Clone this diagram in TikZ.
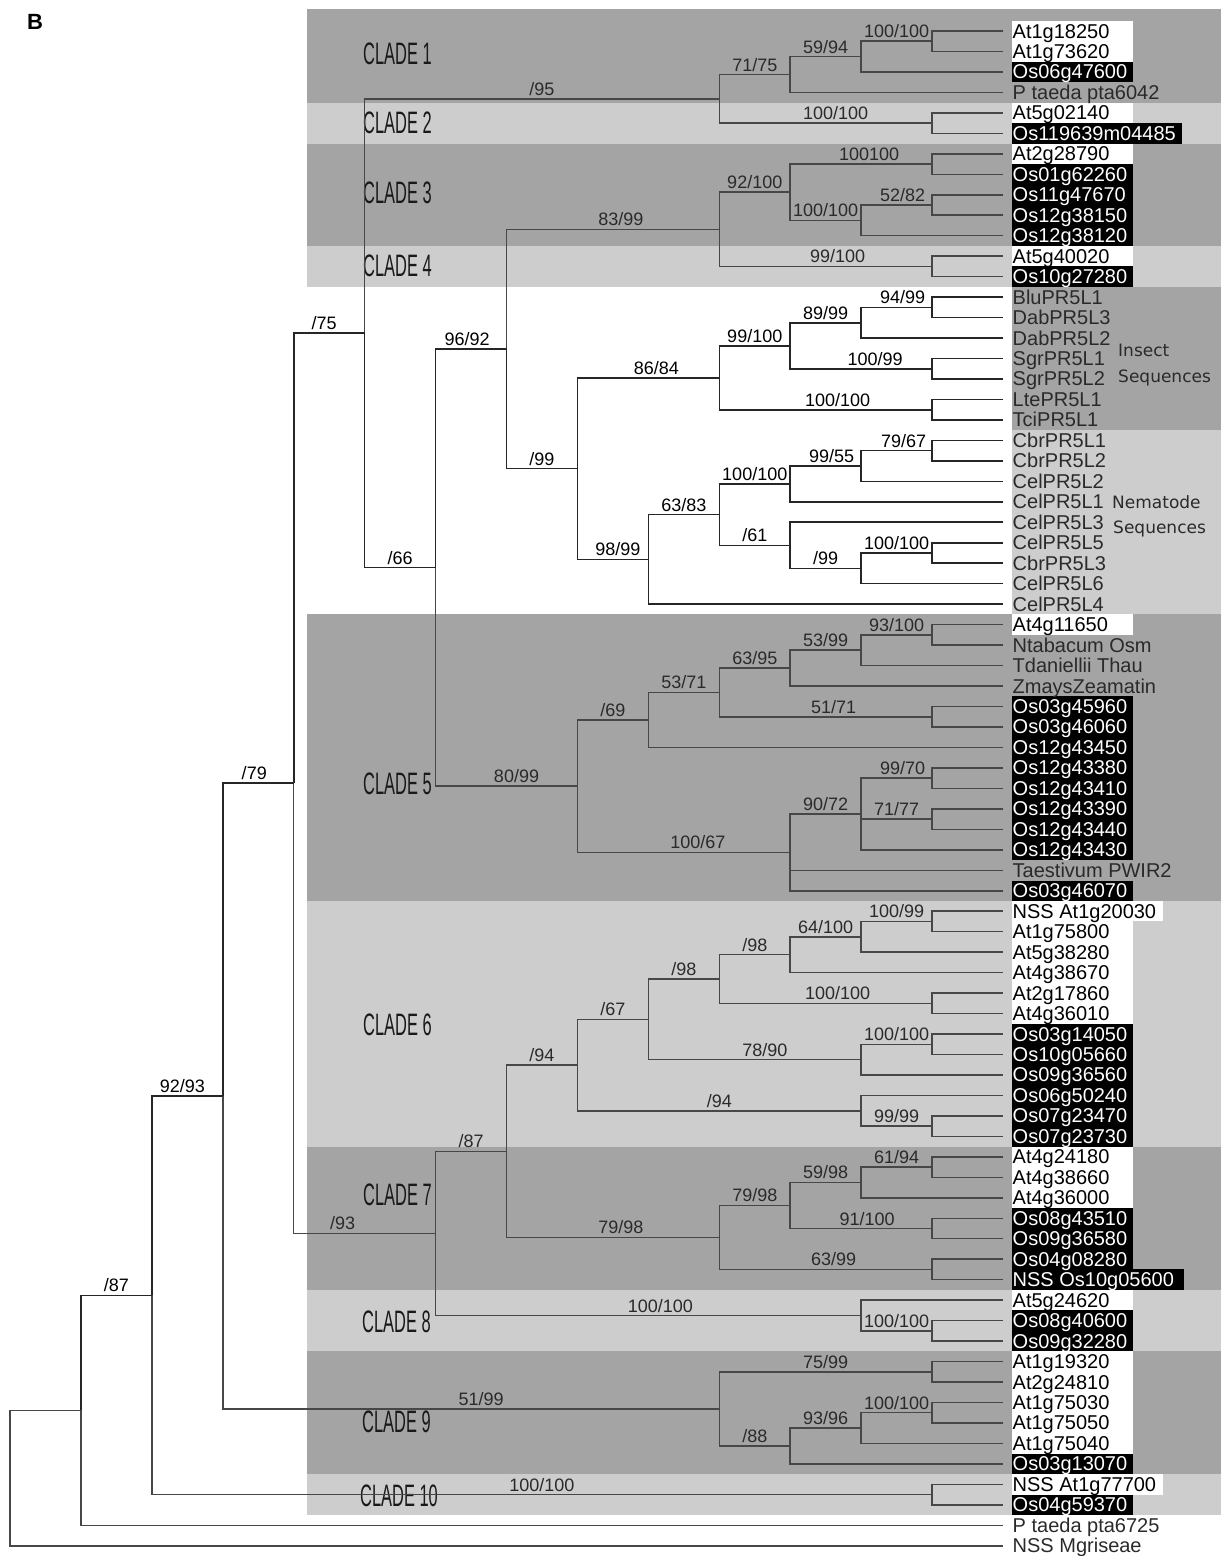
\documentclass[tikz,border=0pt]{standalone}
\usepackage{fontspec}
\setmainfont{Liberation Sans}
\newfontfamily\annfont{DejaVu Sans}
\usepackage{graphicx}
\definecolor{bandD}{HTML}{A4A4A4}
\definecolor{bandL}{HTML}{CDCDCD}
\definecolor{lineG}{HTML}{474747}
\definecolor{txtG}{HTML}{2A2A2A}
\def\leaflist{0/At1g18250/white/black/1133,1/At1g73620/white/black/1133,2/Os06g47600/black/white/1133,3/P taeda pta6042/none/txtG/1133,
4/At5g02140/white/black/1133,5/Os119639m04485/black/white/1182,
6/At2g28790/white/black/1133,7/Os01g62260/black/white/1133,8/Os11g47670/black/white/1133,9/Os12g38150/black/white/1133,10/Os12g38120/black/white/1133,
11/At5g40020/white/black/1133,12/Os10g27280/black/white/1133,
13/BluPR5L1/none/txtG/1133,14/DabPR5L3/none/txtG/1133,15/DabPR5L2/none/txtG/1133,16/SgrPR5L1/none/txtG/1133,17/SgrPR5L2/none/txtG/1133,18/LtePR5L1/none/txtG/1133,19/TciPR5L1/none/txtG/1133,
20/CbrPR5L1/none/txtG/1133,21/CbrPR5L2/none/txtG/1133,22/CelPR5L2/none/txtG/1133,23/CelPR5L1/none/txtG/1133,24/CelPR5L3/none/txtG/1133,25/CelPR5L5/none/txtG/1133,26/CbrPR5L3/none/txtG/1133,27/CelPR5L6/none/txtG/1133,28/CelPR5L4/none/txtG/1133,
29/At4g11650/white/black/1133,30/Ntabacum Osm/none/txtG/1133,31/Tdaniellii Thau/none/txtG/1133,32/ZmaysZeamatin/none/txtG/1133,
33/Os03g45960/black/white/1133,34/Os03g46060/black/white/1133,35/Os12g43450/black/white/1133,36/Os12g43380/black/white/1133,37/Os12g43410/black/white/1133,38/Os12g43390/black/white/1133,39/Os12g43440/black/white/1133,40/Os12g43430/black/white/1133,
41/Taestivum PWIR2/none/txtG/1133,42/Os03g46070/black/white/1133,
43/NSS At1g20030/white/black/1163,44/At1g75800/white/black/1133,45/At5g38280/white/black/1133,46/At4g38670/white/black/1133,47/At2g17860/white/black/1133,48/At4g36010/white/black/1133,
49/Os03g14050/black/white/1133,50/Os10g05660/black/white/1133,51/Os09g36560/black/white/1133,52/Os06g50240/black/white/1133,53/Os07g23470/black/white/1133,54/Os07g23730/black/white/1133,
55/At4g24180/white/black/1133,56/At4g38660/white/black/1133,57/At4g36000/white/black/1133,
58/Os08g43510/black/white/1133,59/Os09g36580/black/white/1133,60/Os04g08280/black/white/1133,61/NSS Os10g05600/black/white/1184,
62/At5g24620/white/black/1133,63/Os08g40600/black/white/1133,64/Os09g32280/black/white/1133,
65/At1g19320/white/black/1133,66/At2g24810/white/black/1133,67/At1g75030/white/black/1133,68/At1g75050/white/black/1133,69/At1g75040/white/black/1133,70/Os03g13070/black/white/1133,
71/NSS At1g77700/white/black/1163,72/Os04g59370/black/white/1133,
73/P taeda pta6725/none/txtG/1133,74/NSS Mgriseae/none/txtG/1133}
\begin{document}
\begin{tikzpicture}[x=1pt,y=-1pt,
  declare function={cx(\k)=10+70.93*\k; ry(\r)=31+20.47*\r;},
  br/.style={draw=lineG,line width=1.5pt},
  bk/.style={draw=black!85,line width=1.6pt},
  bl/.style={pos=0.75,anchor=base,yshift=3.5pt,inner sep=0pt,font=\fontsize{18}{18}\selectfont,text=txtG},
  bb/.style={bl,text=black},
  lf/.style={anchor=base west,inner sep=0pt,font=\fontsize{20}{20}\selectfont},
  cl/.style={anchor=west,inner sep=0pt,text=black!90,font=\fontsize{31}{31}\selectfont},
  ann/.style={anchor=base west,inner sep=0pt,text=txtG,font=\annfont\fontsize{17}{17}\selectfont}]
\useasboundingbox (0,0) rectangle (1221,1556);
% clade bands
\fill[bandD] (307,9) rectangle (1221,{ry(3.5)});
\fill[bandL] (307,{ry(3.5)}) rectangle (1221,{ry(5.5)});
\fill[bandD] (307,{ry(5.5)}) rectangle (1221,{ry(10.5)});
\fill[bandL] (307,{ry(10.5)}) rectangle (1221,{ry(12.5)});
\fill[bandD] (1011.5,{ry(12.5)}) rectangle (1221,{ry(19.5)});
\fill[bandL] (1011.5,{ry(19.5)}) rectangle (1221,{ry(28.5)});
\fill[bandD] (307,{ry(28.5)}) rectangle (1221,{ry(42.5)});
\fill[bandL] (307,{ry(42.5)}) rectangle (1221,{ry(54.5)});
\fill[bandD] (307,{ry(54.5)}) rectangle (1221,{ry(61.5)});
\fill[bandL] (307,{ry(61.5)}) rectangle (1221,{ry(64.5)});
\fill[bandD] (307,{ry(64.5)}) rectangle (1221,{ry(70.5)});
\fill[bandL] (307,{ry(70.5)}) rectangle (1221,{ry(72.5)});
% label boxes
\foreach \ii/\nm/\fc/\tc/\rr in \leaflist {
  \fill[fill=\fc] (1011.5,{ry(\ii-0.5)}) rectangle (\rr,{ry(\ii+0.5)});
}
% panel and clade labels
\node[font=\bfseries\fontsize{22}{22}\selectfont,inner sep=0pt] (panel) at (35,22) {B};
\node[cl] (cl1) at (363,54) {\scalebox{0.53}[1]{CLADE 1}};
\node[cl] (cl2) at (363,123) {\scalebox{0.53}[1]{CLADE 2}};
\node[cl] (cl3) at (363,193) {\scalebox{0.53}[1]{CLADE 3}};
\node[cl] (cl4) at (363,266) {\scalebox{0.53}[1]{CLADE 4}};
\node[cl] (cl5) at (363,784) {\scalebox{0.53}[1]{CLADE 5}};
\node[cl] (cl6) at (363,1025) {\scalebox{0.53}[1]{CLADE 6}};
\node[cl] (cl7) at (363,1195) {\scalebox{0.53}[1]{CLADE 7}};
\node[cl] (cl8) at (362,1322) {\scalebox{0.53}[1]{CLADE 8}};
\node[cl] (cl9) at (362,1422) {\scalebox{0.53}[1]{CLADE 9}};
\node[cl] (cl10) at (360,1496) {\scalebox{0.53}[1]{CLADE 10}};
\node[ann] (ins1) at (1118,356) {Insect};
\node[ann] (ins2) at (1118,382) {Sequences};
\node[ann] (nem1) at (1112,508) {Nematode};
\node[ann] (nem2) at (1113,533) {Sequences};
% tips
\foreach \ii in {0,...,74} { \coordinate (t\ii) at ({cx(14)},{ry(\ii)}); }
% internal nodes
\coordinate (a1) at ({cx(13)},{ry(0.5)});
\coordinate (a2) at ({cx(12)},{ry(1.25)});
\coordinate (a3) at ({cx(11)},{ry(2.125)});
\coordinate (c2) at ({cx(13)},{ry(4.5)});
\coordinate (c12) at ({cx(10)},{ry(3.3125)});
\coordinate (b1) at ({cx(13)},{ry(6.5)});
\coordinate (b2) at ({cx(13)},{ry(8.5)});
\coordinate (b3) at ({cx(12)},{ry(9.25)});
\coordinate (b4) at ({cx(11)},{ry(7.875)});
\coordinate (c4) at ({cx(13)},{ry(11.5)});
\coordinate (c34) at ({cx(10)},{ry(9.6875)});
\coordinate (i1) at ({cx(13)},{ry(13.5)});
\coordinate (i2) at ({cx(12)},{ry(14.25)});
\coordinate (i3) at ({cx(13)},{ry(16.5)});
\coordinate (i4) at ({cx(11)},{ry(15.375)});
\coordinate (i5) at ({cx(13)},{ry(18.5)});
\coordinate (i6) at ({cx(10)},{ry(16.9375)});
\coordinate (m1) at ({cx(13)},{ry(20.5)});
\coordinate (m2) at ({cx(12)},{ry(21.25)});
\coordinate (m3) at ({cx(11)},{ry(22.125)});
\coordinate (m4) at ({cx(13)},{ry(25.5)});
\coordinate (m5) at ({cx(12)},{ry(26.25)});
\coordinate (m6) at ({cx(11)},{ry(25.125)});
\coordinate (m7) at ({cx(10)},{ry(23.625)});
\coordinate (m8) at ({cx(9)},{ry(25.8125)});
\coordinate (im) at ({cx(8)},{ry(21.375)});
\coordinate (d96) at ({cx(7)},{ry(15.53125)});
\coordinate (f1) at ({cx(13)},{ry(29.5)});
\coordinate (f2) at ({cx(12)},{ry(30.25)});
\coordinate (f3) at ({cx(11)},{ry(31.125)});
\coordinate (f4) at ({cx(13)},{ry(33.5)});
\coordinate (f5) at ({cx(10)},{ry(32.3125)});
\coordinate (f6) at ({cx(9)},{ry(33.65625)});
\coordinate (f7) at ({cx(13)},{ry(36.5)});
\coordinate (f8) at ({cx(13)},{ry(38.5)});
\coordinate (f9) at ({cx(12)},{ry(38.25)});
\coordinate (f10) at ({cx(11)},{ry(40.125)});
\coordinate (f11) at ({cx(8)},{ry(36.890625)});
\coordinate (d66) at ({cx(6)},{ry(26.2109375)});
\coordinate (d75) at ({cx(5)},{ry(14.76171875)});
\coordinate (g1) at ({cx(13)},{ry(43.5)});
\coordinate (g2) at ({cx(12)},{ry(44.25)});
\coordinate (g3) at ({cx(11)},{ry(45.125)});
\coordinate (g4) at ({cx(13)},{ry(47.5)});
\coordinate (g5) at ({cx(10)},{ry(46.3125)});
\coordinate (g6) at ({cx(13)},{ry(49.5)});
\coordinate (g7) at ({cx(12)},{ry(50.25)});
\coordinate (g8) at ({cx(9)},{ry(48.28125)});
\coordinate (g9) at ({cx(13)},{ry(53.5)});
\coordinate (g10) at ({cx(12)},{ry(52.75)});
\coordinate (g11) at ({cx(8)},{ry(50.515625)});
\coordinate (h1) at ({cx(13)},{ry(55.5)});
\coordinate (h2) at ({cx(12)},{ry(56.25)});
\coordinate (h3) at ({cx(13)},{ry(58.5)});
\coordinate (h4) at ({cx(11)},{ry(57.375)});
\coordinate (h5) at ({cx(13)},{ry(60.5)});
\coordinate (h6) at ({cx(10)},{ry(58.9375)});
\coordinate (d87) at ({cx(7)},{ry(54.7265625)});
\coordinate (j1) at ({cx(13)},{ry(63.5)});
\coordinate (j2) at ({cx(12)},{ry(62.75)});
\coordinate (d93) at ({cx(6)},{ry(58.73828125)});
\coordinate (d79) at ({cx(4)},{ry(36.75)});
\coordinate (q1) at ({cx(13)},{ry(65.5)});
\coordinate (q2) at ({cx(13)},{ry(67.5)});
\coordinate (q3) at ({cx(12)},{ry(68.25)});
\coordinate (q4) at ({cx(11)},{ry(69.125)});
\coordinate (q5) at ({cx(10)},{ry(67.3125)});
\coordinate (d92) at ({cx(3)},{ry(52.03125)});
\coordinate (r1) at ({cx(13)},{ry(71.5)});
\coordinate (d87b) at ({cx(2)},{ry(61.765625)});
\coordinate (dA) at ({cx(1)},{ry(67.3828125)});
\coordinate (root) at ({cx(0)},{ry(70.69)});
% ---- clade 1 and 2
\draw[br] (a1) |- (t0); \draw[br] (a1) |- (t1);
\draw[br] (a2) |- (a1) node[bl]{100/100}; \draw[br] (a2) |- (t2);
\draw[br] (a3) |- (a2) node[bl]{59/94}; \draw[br] (a3) |- (t3);
\draw[br] (c2) |- (t4); \draw[br] (c2) |- (t5);
\draw[br] (c12) |- (a3) node[bl]{71/75};
\draw[br] (c12) |- (c2) node[bl,xshift=10pt]{100/100};
% ---- clade 3 and 4
\draw[br] (b1) |- (t6); \draw[br] (b1) |- (t7);
\draw[br] (b2) |- (t8); \draw[br] (b2) |- (t9);
\draw[br] (b3) |- (b2) node[bl,xshift=6pt]{52/82}; \draw[br] (b3) |- (t10);
\draw[br] (b4) |- (b1) node[bl,xshift=8pt]{100100};
\draw[br] (b4) |- (b3) node[bl]{100/100};
\draw[br] (c4) |- (t11); \draw[br] (c4) |- (t12);
\draw[br] (c34) |- (b4) node[bl]{92/100};
\draw[br] (c34) |- (c4) node[bl,xshift=12pt]{99/100};
% ---- insects
\draw[bk] (i1) |- (t13); \draw[bk] (i1) |- (t14);
\draw[bk] (i2) |- (i1) node[bb,xshift=6pt]{94/99}; \draw[bk] (i2) |- (t15);
\draw[bk] (i3) |- (t16); \draw[bk] (i3) |- (t17);
\draw[bk] (i4) |- (i2) node[bb]{89/99};
\draw[bk] (i4) |- (i3) node[bb,xshift=14pt]{100/99};
\draw[bk] (i5) |- (t18); \draw[bk] (i5) |- (t19);
\draw[bk] (i6) |- (i4) node[bb]{99/100};
\draw[bk] (i6) |- (i5) node[bb,xshift=12pt]{100/100};
% ---- nematodes
\draw[bk] (m1) |- (t20); \draw[bk] (m1) |- (t21);
\draw[bk] (m2) |- (m1) node[bb,xshift=7pt]{79/67}; \draw[bk] (m2) |- (t22);
\draw[bk] (m3) |- (m2) node[bb,xshift=6pt]{99/55}; \draw[bk] (m3) |- (t23);
\draw[bk] (m4) |- (t25); \draw[bk] (m4) |- (t26);
\draw[bk] (m5) |- (m4) node[bb]{100/100}; \draw[bk] (m5) |- (t27);
\draw[bk] (m6) |- (t24); \draw[bk] (m6) |- (m5) node[bb]{/99};
\draw[bk] (m7) |- (m3) node[bb]{100/100};
\draw[bk] (m7) |- (m6) node[bb]{/61};
\draw[bk] (m8) |- (m7) node[bb]{63/83}; \draw[bk] (m8) |- (t28);
\draw[bk] (im) |- (i6) node[bb,xshift=8pt]{86/84};
\draw[bk] (im) |- (m8) node[bb,xshift=5pt]{98/99};
\draw[br] (d96) |- (c34) node[bl,xshift=8pt]{83/99};
\draw[bk] (d96) |- (im) node[bb]{/99};
% ---- clade 5
\draw[br] (f1) |- (t29); \draw[br] (f1) |- (t30);
\draw[br] (f2) |- (f1) node[bl]{93/100}; \draw[br] (f2) |- (t31);
\draw[br] (f3) |- (f2) node[bl]{53/99}; \draw[br] (f3) |- (t32);
\draw[br] (f4) |- (t33); \draw[br] (f4) |- (t34);
\draw[br] (f5) |- (f3) node[bl]{63/95};
\draw[br] (f5) |- (f4) node[bl,xshift=8pt]{51/71};
\draw[br] (f6) |- (f5) node[bl]{53/71}; \draw[br] (f6) |- (t35);
\draw[br] (f7) |- (t36); \draw[br] (f7) |- (t37);
\draw[br] (f8) |- (t38); \draw[br] (f8) |- (t39);
\draw[br] (f9) |- (f7) node[bl,xshift=6pt]{99/70};
\draw[br] (f9) |- (f8) node[bl]{71/77}; \draw[br] (f9) |- (t40);
\draw[br] (f10) |- (f9) node[bl]{90/72};
\draw[br] (f10) |- (t41); \draw[br] (f10) |- (t42);
\draw[br] (f11) |- (f6) node[bl]{/69};
\draw[br] (f11) |- (f10) node[bl,xshift=14pt]{100/67};
\draw[br] (d66) |- (f11) node[bl,xshift=10pt]{80/99};
\draw[bk] (d66) |- (d96) node[bb,xshift=-4pt]{96/92};
\draw[br] (d75) |- (c12) node[bl]{/95};
\draw[bk] (d75) |- (d66) node[bb]{/66};
% ---- clade 6
\draw[br] (g1) |- (t43); \draw[br] (g1) |- (t44);
\draw[br] (g2) |- (g1) node[bl]{100/99}; \draw[br] (g2) |- (t45);
\draw[br] (g3) |- (g2) node[bl]{64/100}; \draw[br] (g3) |- (t46);
\draw[br] (g4) |- (t47); \draw[br] (g4) |- (t48);
\draw[br] (g5) |- (g3) node[bl]{/98};
\draw[br] (g5) |- (g4) node[bl,xshift=12pt]{100/100};
\draw[br] (g6) |- (t49); \draw[br] (g6) |- (t50);
\draw[br] (g7) |- (g6) node[bl]{100/100}; \draw[br] (g7) |- (t51);
\draw[br] (g8) |- (g5) node[bl]{/98};
\draw[br] (g8) |- (g7) node[bl,xshift=10pt]{78/90};
\draw[br] (g9) |- (t53); \draw[br] (g9) |- (t54);
\draw[br] (g10) |- (t52); \draw[br] (g10) |- (g9) node[bl]{99/99};
\draw[br] (g11) |- (g8) node[bl]{/67};
\draw[br] (g11) |- (g10) node[bl]{/94};
% ---- clade 7
\draw[br] (h1) |- (t55); \draw[br] (h1) |- (t56);
\draw[br] (h2) |- (h1) node[bl]{61/94}; \draw[br] (h2) |- (t57);
\draw[br] (h3) |- (t58); \draw[br] (h3) |- (t59);
\draw[br] (h4) |- (h2) node[bl]{59/98};
\draw[br] (h4) |- (h3) node[bl,xshift=6pt]{91/100};
\draw[br] (h5) |- (t60); \draw[br] (h5) |- (t61);
\draw[br] (h6) |- (h4) node[bl]{79/98};
\draw[br] (h6) |- (h5) node[bl,xshift=8pt]{63/99};
\draw[br] (d87) |- (g11) node[bl]{/94};
\draw[br] (d87) |- (h6) node[bl,xshift=8pt]{79/98};
% ---- clade 8
\draw[br] (j1) |- (t63); \draw[br] (j1) |- (t64);
\draw[br] (j2) |- (t62); \draw[br] (j2) |- (j1) node[bl]{100/100};
\draw[br] (d93) |- (d87) node[bl]{/87};
\draw[br] (d93) |- (j2) node[bl,xshift=12pt]{100/100};
\draw[br] (d79) |- (d93) node[bl,xshift=-22pt]{/93};
\draw[bk] (d79) |- (d75) node[bb,xshift=-5pt]{/75};
% ---- clade 9
\draw[br] (q1) |- (t65); \draw[br] (q1) |- (t66);
\draw[br] (q2) |- (t67); \draw[br] (q2) |- (t68);
\draw[br] (q3) |- (q2) node[bl]{100/100}; \draw[br] (q3) |- (t69);
\draw[br] (q4) |- (q3) node[bl]{93/96}; \draw[br] (q4) |- (t70);
\draw[br] (q5) |- (q1) node[bl]{75/99};
\draw[br] (q5) |- (q4) node[bl]{/88};
\draw[bk] (d92) |- (d79) node[bb,xshift=-4pt]{/79};
\draw[br] (d92) |- (q5) node[bl,xshift=10pt]{51/99};
% ---- clade 10 and base
\draw[br] (r1) |- (t71); \draw[br] (r1) |- (t72);
\draw[bk] (d87b) |- (d92) node[bb,xshift=-5pt]{92/93};
\draw[br] (d87b) |- (r1) node[bl]{100/100};
\draw[bk] (dA) |- (d87b) node[bb]{/87};
\draw[br] (dA) |- (t73);
\draw[br] (root) |- (dA);
\draw[br] (root) |- (t74);
% leaf labels
\foreach \ii/\nm/\fc/\tc/\rr in \leaflist {
  \node[lf,text=\tc] (L\ii) at (1012.5,{ry(\ii)+7}) {\nm};
}
\end{tikzpicture}
\end{document}
